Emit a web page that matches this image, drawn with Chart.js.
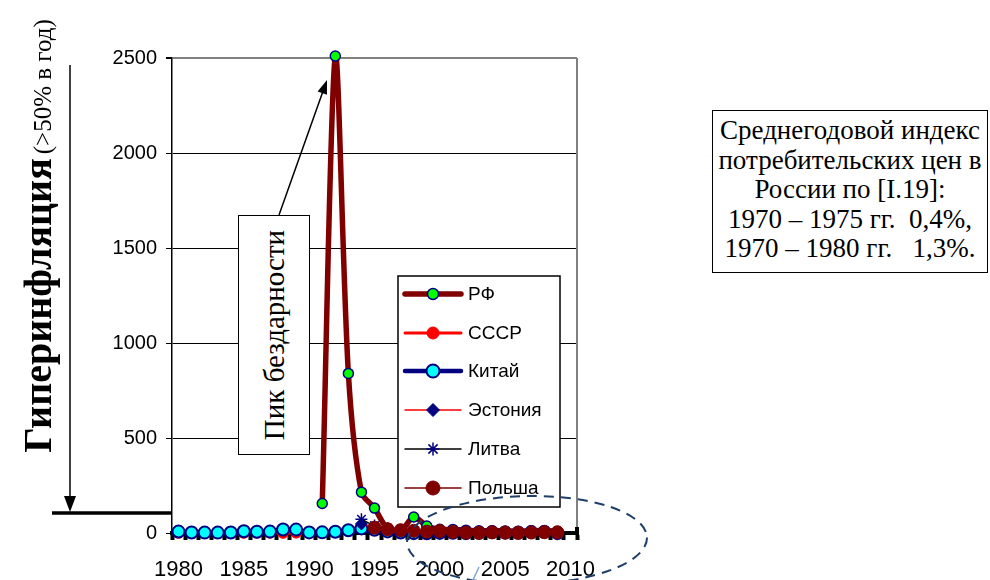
<!DOCTYPE html>
<html><head><meta charset="utf-8">
<script src="https://cdn.jsdelivr.net/npm/chart.js@4/dist/chart.umd.min.js"></script>
<style>
html,body{margin:0;padding:0;background:#fff;}
#wrap{position:relative;width:990px;height:580px;overflow:hidden;}
#c{position:absolute;left:0;top:0;}
#ytitle{position:absolute;left:38px;top:236px;width:480px;height:50px;margin-left:-240px;margin-top:-25px;transform:rotate(-90deg);text-align:center;white-space:nowrap;font-family:"Liberation Serif","Times New Roman",serif;line-height:50px;color:#000;}
#ytitle b{font-size:40px;}
#ytitle span{font-size:25px;}
#peak{position:absolute;left:238px;top:215px;width:70px;height:238px;border:1.5px solid #000;background:#fff;}
#peak div{position:absolute;left:50%;top:50%;width:238px;margin-left:-119px;height:40px;margin-top:-20px;line-height:40px;text-align:center;transform:rotate(-90deg);font-family:"Liberation Serif","Times New Roman",serif;font-size:29px;white-space:nowrap;}
#info{position:absolute;left:712px;top:110px;width:276px;height:163px;border:1.5px solid #000;background:#fff;text-align:center;font-family:"Liberation Serif","Times New Roman",serif;font-size:27px;line-height:29.5px;padding-top:5px;box-sizing:border-box;white-space:pre;}
</style></head>
<body><div id="wrap">
<canvas id="c" width="990" height="580"></canvas>
<div id="ytitle"><b>Гиперинфляция</b>&nbsp;<span>(&gt;50% в год)</span></div>
<div id="peak"><div>Пик бездарности</div></div>
<div id="info">Среднегодовой индекс
потребительских цен в
России по [I.19]:
1970 – 1975 гг.  0,4%,
1970 – 1980 гг.   1,3%.</div>
</div>
<script>
const years = ["1980","1981","1982","1983","1984","1985","1986","1987","1988","1989","1990","1991","1992","1993","1994","1995","1996","1997","1998","1999","2000","2001","2002","2003","2004","2005","2006","2007","2008","2009","2010"];
const yTicks = [0,500,1000,1500,2000,2500];
const seriesNames = ["РФ","СССР","Китай","Эстония","Литва","Польша"];
// values per year 1980..2010 (null = no data)
const rf = [null,null,null,null,null,null,null,null,null,null,null,155,2510,840,215,131,22,11,84,37,20,19,15,12,12,11,9,12,13,9,null];
const ussr = [1.0,1.0,3.5,1.0,1.0,1.0,2.0,1.5,1.0,2.0,5.0,null,null,null,null,null,null,null,null,null,null,null,null,null,null,null,null,null,null,null,null];
const china = [7.5,2.5,2.0,2.0,2.7,9.3,6.5,7.3,18.8,18.0,3.1,3.4,6.4,14.7,24.1,17.1,8.3,2.8,-0.8,-1.4,0.4,0.7,-0.8,1.2,3.9,1.8,1.5,4.8,5.9,-0.7,null];
const estonia = [null,null,null,null,null,null,null,null,null,null,null,null,null,null,47.7,28.9,23.1,11.2,8.2,3.3,4.0,5.8,3.6,1.3,3.0,4.1,4.4,6.6,10.4,-0.1,null];
const lithuania = [null,null,null,null,null,null,null,null,null,null,null,null,null,null,72.1,39.6,24.6,8.9,5.1,0.8,1.0,1.3,0.3,-1.2,1.2,2.7,3.8,5.8,11.1,4.2,null];
const poland = [null,null,null,null,null,null,null,null,null,null,null,null,null,null,null,27.8,19.9,14.9,11.8,7.3,10.1,5.5,1.9,0.8,3.5,2.1,1.0,2.5,4.2,3.5,null];

const datasets = [
 {label:seriesNames[0],data:rf,borderColor:'#800000',borderWidth:5.5,pointStyle:'circle',pointRadius:5,pointBackgroundColor:'#00FF00',pointBorderColor:'#000080',pointBorderWidth:1.5,tension:0.3,order:6},
 {label:seriesNames[1],data:ussr,borderColor:'#FF0000',borderWidth:3,pointStyle:'circle',pointRadius:5.5,pointBackgroundColor:'#FF0000',pointBorderColor:'#FF0000',pointBorderWidth:1,tension:0.3,order:5},
 {label:seriesNames[2],data:china,borderColor:'#000080',borderWidth:4.5,pointStyle:'circle',pointRadius:6,pointBackgroundColor:'#00FFFF',pointBorderColor:'#000080',pointBorderWidth:2,tension:0.3,order:4},
 {label:seriesNames[3],data:estonia,borderColor:'#FF0000',borderWidth:1.5,pointStyle:'rectRot',pointRadius:6,pointBackgroundColor:'#000080',pointBorderColor:'#000080',pointBorderWidth:1,tension:0.3,order:3},
 {label:seriesNames[4],data:lithuania,borderColor:'#000000',borderWidth:1.5,pointStyle:'star',pointRadius:6,pointBackgroundColor:'#000080',pointBorderColor:'#000080',pointBorderWidth:1.5,tension:0.3,order:2},
 {label:seriesNames[5],data:poland,borderColor:'#800000',borderWidth:1.5,pointStyle:'circle',pointRadius:6.5,pointBackgroundColor:'#800000',pointBorderColor:'#800000',pointBorderWidth:1,tension:0.3,order:1}
];
datasets.forEach(d=>{d.clip=false;d.spanGaps=false;d.fill=false;});

const deco = {
 id:'deco',
 afterDatasetsDraw(chart){
  const ctx = chart.ctx, ca = chart.chartArea;
  ctx.save();
  ctx.strokeStyle='#808080';ctx.lineWidth=2;
  ctx.beginPath();ctx.moveTo(ca.right,ca.top);ctx.lineTo(ca.right,ca.bottom);ctx.stroke();
  ctx.strokeStyle='#000';ctx.lineWidth=4;
  ctx.beginPath();ctx.moveTo(ca.right,ca.bottom+2);ctx.lineTo(ca.right,ca.bottom-6);ctx.stroke();
  // legend
  const lx=398, ly=276, lw=162, lh=231;
  ctx.fillStyle='#fff';ctx.fillRect(lx,ly,lw,lh);
  ctx.strokeStyle='#000';ctx.lineWidth=1.5;ctx.strokeRect(lx,ly,lw,lh);
  const rows=[294,333,371,410,449,488];
  chart.data.datasets.forEach((ds,i)=>{
   const y=rows[i];
   ctx.strokeStyle=ds.borderColor;ctx.lineWidth=ds.borderWidth;ctx.lineCap='round';
   ctx.beginPath();ctx.moveTo(405,y);ctx.lineTo(461,y);ctx.stroke();
   ctx.lineCap='butt';
   ctx.fillStyle=ds.pointBackgroundColor;ctx.strokeStyle=ds.pointBorderColor;ctx.lineWidth=ds.pointBorderWidth;
   Chart.helpers.drawPoint(ctx,{pointStyle:ds.pointStyle,radius:ds.pointRadius+0.5,rotation:0,borderWidth:ds.pointBorderWidth},433,y);
   ctx.fillStyle='#000';ctx.font='19px "Liberation Sans", Arial, sans-serif';ctx.textBaseline='middle';ctx.textAlign='left';
   ctx.fillText(ds.label,468,y+1);
  });
  ctx.restore();
 },
 afterDraw(chart){
  const ctx = chart.ctx, ca = chart.chartArea;
  ctx.save();
  ctx.strokeStyle='#000';ctx.fillStyle='#000';ctx.lineWidth=1.5;
  const x0=279,y0=215,x1=327,y1=80;
  const ang=Math.atan2(y1-y0,x1-x0);
  ctx.beginPath();ctx.moveTo(x0,y0);ctx.lineTo(x1-12*Math.cos(ang),y1-12*Math.sin(ang));ctx.stroke();
  ctx.beginPath();ctx.moveTo(x1,y1);
  ctx.lineTo(x1-14*Math.cos(ang)+5*Math.sin(ang),y1-14*Math.sin(ang)-5*Math.cos(ang));
  ctx.lineTo(x1-14*Math.cos(ang)-5*Math.sin(ang),y1-14*Math.sin(ang)+5*Math.cos(ang));
  ctx.closePath();ctx.fill();
  ctx.lineWidth=1.5;
  ctx.beginPath();ctx.moveTo(70,65);ctx.lineTo(70,500);ctx.stroke();
  ctx.beginPath();ctx.moveTo(70,512);ctx.lineTo(64,496);ctx.lineTo(76,496);ctx.closePath();ctx.fill();
  ctx.lineWidth=3.5;
  ctx.beginPath();ctx.moveTo(52,513);ctx.lineTo(ca.left,513);ctx.stroke();
  ctx.strokeStyle='#1F3F6A';ctx.lineWidth=2;ctx.setLineDash([10,7]);
  ctx.beginPath();ctx.ellipse(527,540,120,44,-0.02,0,Math.PI*2);ctx.stroke();
  ctx.setLineDash([]);
  ctx.strokeStyle='#7FA7DA';ctx.lineWidth=1.5;
  ctx.beginPath();ctx.moveTo(472,582);ctx.lineTo(479,567);ctx.stroke();
  ctx.restore();
 }
};

new Chart(document.getElementById('c'),{
 type:'line',
 data:{labels:years,datasets:datasets},
 options:{
  responsive:false,animation:false,
  layout:{padding:{left:0,right:413,top:58,bottom:0}},
  plugins:{legend:{display:false},tooltip:{enabled:false}},
  scales:{
   x:{type:'category',offset:true,
      grid:{offset:true,drawOnChartArea:false,drawTicks:true,tickLength:7,tickWidth:4,tickColor:'#000'},
      border:{color:'#000',width:4},
      ticks:{autoSkip:false,maxRotation:0,minRotation:0,padding:17,color:'#000',font:{family:'"Liberation Sans", Arial, sans-serif',size:22},
        callback:function(v,i){const y=+years[i];return (y%5===0)?years[i]:'';}},
      afterFit:s=>{s.height=47;}
   },
   y:{min:0,max:2500,
      afterBuildTicks:s=>{s.ticks=yTicks.map(v=>({value:v}));},
      grid:{color:c=>c.tick&&c.tick.value===2500?'#808080':'#000',lineWidth:c=>c.tick&&c.tick.value===2500?2:1,tickColor:'#000',tickLength:6},
      border:{color:'#000',width:1.5},
      ticks:{padding:9,color:'#000',font:{family:'"Liberation Sans", Arial, sans-serif',size:20},callback:v=>String(v)},
      afterFit:s=>{s.width=172;}
   }
  }
 },
 plugins:[deco]
});
</script>
</body></html>
